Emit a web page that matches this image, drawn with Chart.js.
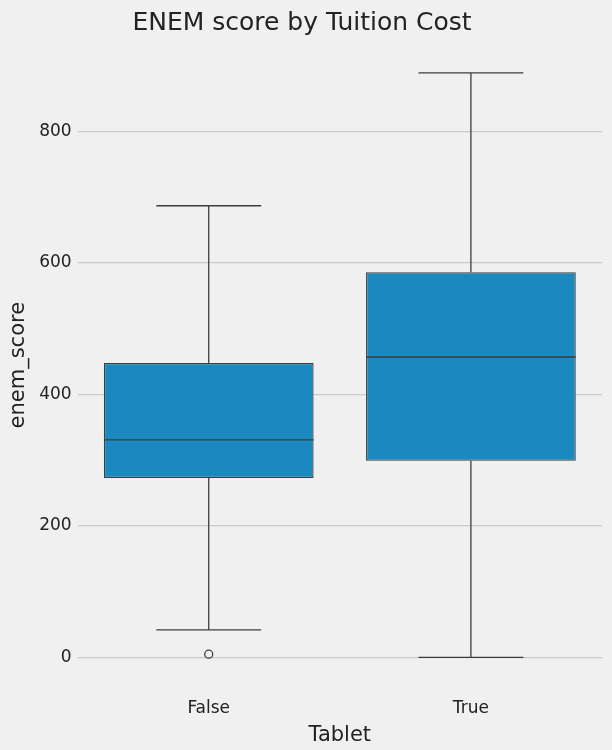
<!DOCTYPE html>
<html>
<head>
<meta charset="utf-8">
<script src="https://cdn.jsdelivr.net/npm/chart.js@4"></script>
<style>
  html, body { margin: 0; padding: 0; background: #f0f0f0; }
  #wrap { width: 612px; height: 750px; }
</style>
</head>
<body>
<div id="wrap"><canvas id="chart"></canvas></div>
<script>
// values
const categories = ['False', 'True'];
const q1 = [273, 299];
const median = [331, 457];
const q3 = [448, 586];
const whiskerLow = [42, 0];
const whiskerHigh = [687, 889];
const outliers = [[5], []];
const yTicks = [0, 200, 400, 600, 800];

const boxColor = '#1a89bf';
const edgeColor = '#3d3d3d';
const font = 'DejaVu Sans';

// medians, whiskers, caps and fliers drawn from the chart's own scales
const boxExtras = {
    id: 'boxExtras',
    afterDatasetsDraw(chart) {
        const { ctx, scales: { x, y } } = chart;
        const meta = chart.getDatasetMeta(0);
        ctx.save();
        ctx.strokeStyle = edgeColor;
        ctx.lineWidth = 1.3;
        categories.forEach((c, i) => {
            const bar = meta.data[i];
            const cx = x.getPixelForValue(i);
            const half = bar.width / 2;
            const line = (x1, y1, x2, y2) => {
                ctx.beginPath(); ctx.moveTo(x1, y1); ctx.lineTo(x2, y2); ctx.stroke();
            };
            line(cx - half, y.getPixelForValue(median[i]), cx + half, y.getPixelForValue(median[i]));
            line(cx, y.getPixelForValue(q3[i]), cx, y.getPixelForValue(whiskerHigh[i]));
            line(cx, y.getPixelForValue(q1[i]), cx, y.getPixelForValue(whiskerLow[i]));
            line(cx - half / 2, y.getPixelForValue(whiskerHigh[i]), cx + half / 2, y.getPixelForValue(whiskerHigh[i]));
            line(cx - half / 2, y.getPixelForValue(whiskerLow[i]), cx + half / 2, y.getPixelForValue(whiskerLow[i]));
            outliers[i].forEach(v => {
                ctx.beginPath();
                ctx.arc(cx, y.getPixelForValue(v), 4, 0, Math.PI * 2);
                ctx.stroke();
            });
        });
        ctx.restore();
    }
};

new Chart(document.getElementById('chart'), {
    type: 'bar',
    data: {
        labels: categories,
        datasets: [{
            data: categories.map((c, i) => [q1[i], q3[i]]),
            backgroundColor: boxColor,
            borderColor: edgeColor,
            borderWidth: 1.3,
            borderSkipped: false,
            categoryPercentage: 0.8,
            barPercentage: 1.0
        }]
    },
    options: {
        responsive: true,
        maintainAspectRatio: false,
        animation: false,
        layout: { padding: { left: 2, right: 10, top: 4, bottom: 0 } },
        plugins: {
            legend: { display: false },
            tooltip: { enabled: false },
            title: {
                display: true,
                text: 'ENEM score by Tuition Cost',
                color: '#222',
                font: { family: font, size: 25, weight: 'normal' },
                padding: { top: 4, bottom: 6 }
            }
        },
        scales: {
            x: {
                grid: { display: false },
                border: { display: false },
                ticks: { color: '#222', font: { family: font, size: 17 }, padding: 4 },
                title: { display: true, text: 'Tablet', color: '#222', font: { family: font, size: 21 }, padding: { top: 0, bottom: 2 } }
            },
            y: {
                min: -44,
                max: 933,
                afterBuildTicks: axis => { axis.ticks = yTicks.map(v => ({ value: v })); },
                grid: { color: '#cbcbcb', lineWidth: 1.2, drawTicks: false },
                border: { display: false },
                ticks: { color: '#222', font: { family: font, size: 17 }, padding: 6 },
                title: { display: true, text: 'enem_score', color: '#222', font: { family: font, size: 21 }, padding: { bottom: 2 } }
            }
        }
    },
    plugins: [boxExtras]
});
</script>
</body>
</html>
